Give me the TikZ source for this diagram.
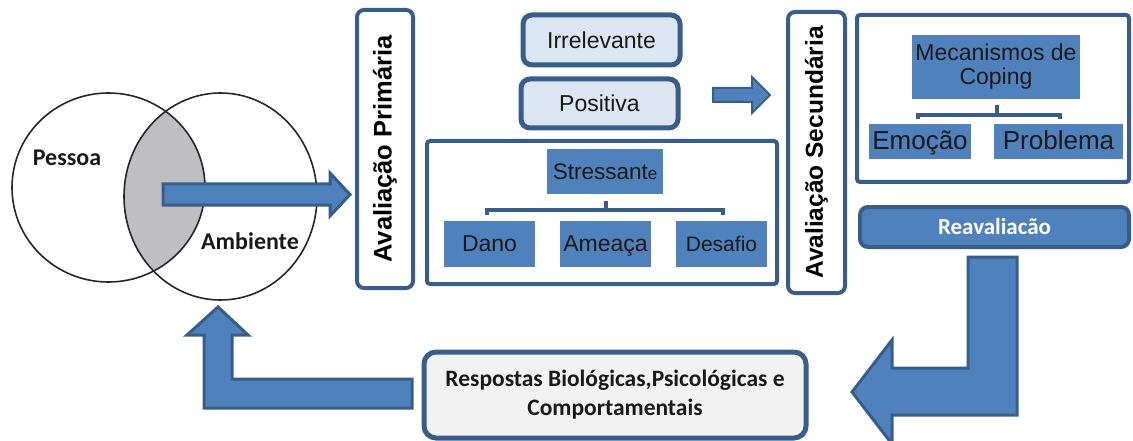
\documentclass[tikz,border=0pt]{standalone}
\usepackage{fontspec}
\setmainfont{Liberation Sans}
\newfontfamily\calfont{Carlito}
\definecolor{bfill}{RGB}{79,129,189}
\definecolor{bdark}{RGB}{56,93,138}
\definecolor{lfill}{RGB}{220,230,242}
\definecolor{gfill}{RGB}{242,242,242}
\definecolor{venn}{RGB}{191,191,195}
\tikzset{
  vennline/.style={draw=black!85, line width=1.6pt},
  vbox/.style={draw=bdark, line width=4pt, fill=white, rounded corners=7pt, rotate=90,
     font=\fontsize{24pt}{24pt}\selectfont\bfseries, inner sep=0pt},
  lbox/.style={draw=bdark, line width=5pt, fill=lfill, rounded corners=9pt, inner sep=0pt,
     font=\fontsize{23pt}{23pt}\selectfont, text=black!90},
  frame/.style={draw=bdark, line width=4pt, fill=white, rounded corners=3pt, inner sep=0pt},
  cell/.style={fill=bfill, inner sep=0pt, font=\fontsize{23pt}{23pt}\selectfont, text=black!90},
  rowcell/.style={cell, minimum width=91, minimum height=46, text height=17pt, text depth=3pt},
  brk/.style={draw=bdark, line width=3.5pt},
  blockarrow/.style={draw=bdark, fill=bfill, line width=3pt, line join=miter},
  lbl/.style={font=\calfont\bfseries\fontsize{24pt}{24pt}\selectfont, text=black!90, inner sep=0pt}
}
\begin{document}
\begin{tikzpicture}[x=1pt,y=-1pt]
\useasboundingbox (0,0) rectangle (1133,441);
% Venn
\begin{scope}
  \clip (108.5,187.5) ellipse [x radius=96.5, y radius=94.5];
  \fill[venn] (220.5,196.5) ellipse [x radius=96.5, y radius=103.5];
\end{scope}
\draw[vennline] (108.5,187.5) ellipse [x radius=96.5, y radius=94.5];
\draw[vennline] (220.5,196.5) ellipse [x radius=96.5, y radius=103.5];
\node[lbl] (pessoa) at (67,158) {Pessoa};
\node[lbl] (ambiente) at (250,241) {Ambiente};
% arrow from intersection
\draw[blockarrow] (163,184) -- (330,184) -- (330,173) -- (350,194.5) -- (330,216) -- (330,205) -- (163,205) -- cycle;
% Avaliacao primaria
\node[vbox, minimum width=278, minimum height=56, font=\fontsize{25.5pt}{25.5pt}\selectfont\bfseries] (ap) at (385,149) {Avaliação Primária};
\node[lbox, minimum width=157, minimum height=50] (irr) at (601.5,40) {Irrelevante};
\node[lbox, minimum width=157, minimum height=49] (pos) at (599.5,103.5) {Positiva};
\draw[frame] (427,141) rectangle (777,284);
\node[cell, minimum width=116, minimum height=45, font=\fontsize{22.5pt}{22.5pt}\selectfont] (str) at (605,171.5) {Stressant{\fontsize{17pt}{17pt}\selectfont e}};
\node[rowcell] (dano) at (489.5,244) {Dano};
\node[rowcell] (ame) at (605.5,244) {Ameaça};
\node[rowcell, font=\fontsize{21pt}{21pt}\selectfont] (des) at (721.5,244) {Desafio};
\draw[brk] (487,215) -- (487,210) -- (723,210) -- (723,215);
\draw[brk] (606,210) -- (606,201);
% small arrow
\draw[blockarrow, line width=2pt] (713,88) -- (752,88) -- (752,77) -- (770,95) -- (752,113) -- (752,102) -- (713,102) -- cycle;
% Avaliacao secundaria
\node[vbox, minimum width=281, minimum height=57, font=\fontsize{24.5pt}{24.5pt}\selectfont\bfseries] (as) at (816.5,152.5) {Avaliação Secundária};
\draw[frame] (857,15) rectangle (1129,182);
\node[cell, minimum width=168, minimum height=64, align=center, font=\fontsize{23pt}{24pt}\selectfont] (mec) at (996,67) {Mecanismos de\\Coping};
\draw[brk] (918,119) -- (918,115) -- (1060,115) -- (1060,119);
\draw[brk] (997,115) -- (997,105);
\node[cell, minimum width=102, minimum height=35, text height=19pt, text depth=3pt, font=\fontsize{26pt}{26pt}\selectfont] (emo) at (920,141.5) {Emoção};
\node[cell, minimum width=129, minimum height=35, text height=19pt, text depth=3pt, font=\fontsize{26pt}{26pt}\selectfont] (prob) at (1058.5,141.5) {Problema};
% Reavaliacao
\node[draw=bdark, line width=4pt, fill=bfill, rounded corners=8pt, minimum width=269, minimum height=40, inner sep=0pt,
      font=\calfont\bfseries\fontsize{23pt}{23pt}\selectfont, text=white] (rea) at (994.5,227) {Reavaliacão};
% big bent arrow
\draw[blockarrow] (1017,257) -- (1017,415) -- (892,415) -- (892,444) -- (852,392) -- (892,340) -- (892,368) -- (968,368) -- (968,257) -- cycle;
% Respostas
\node[draw=bdark, line width=5pt, fill=gfill, rounded corners=12pt, minimum width=382, minimum height=86, inner sep=0pt,
      align=center, font=\calfont\bfseries\fontsize{23.5pt}{29pt}\selectfont, text=black!90] (resp) at (615,395)
      {Respostas Biológicas,Psicológicas e\\Comportamentais};
% up arrow
\draw[blockarrow] (218,307) -- (248,335) -- (232,335) -- (232,379) -- (412,379) -- (412,408) -- (204,408) -- (204,335) -- (187,335) -- cycle;
\end{tikzpicture}
\end{document}
